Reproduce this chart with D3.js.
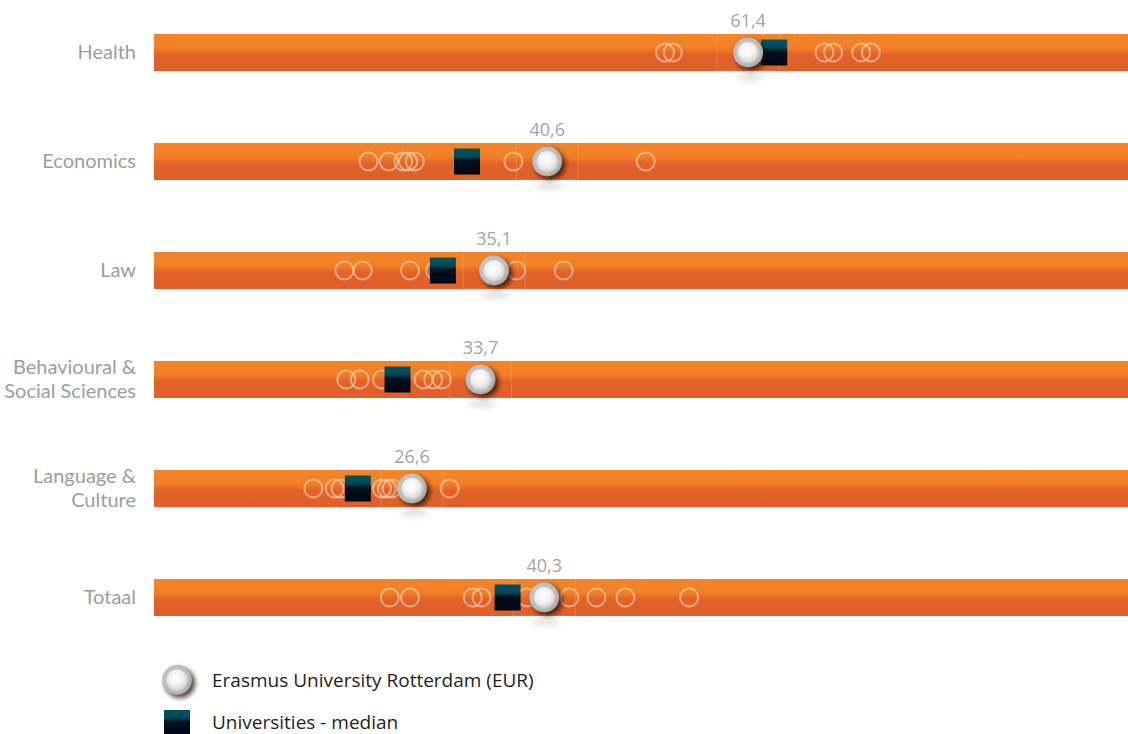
<!DOCTYPE html>
<html>
<head>
<meta charset="utf-8">
<script src="https://cdn.jsdelivr.net/npm/d3@7/dist/d3.min.js"></script>
<style>
  html, body { margin: 0; padding: 0; background: #ffffff; }
  svg { display: block; }
  text { font-family: "Open Sans", "Noto Sans", sans-serif; }
  text.cat { font-family: Lato, "Open Sans", sans-serif; }
</style>
</head>
<body>
<svg id="chart" width="1128" height="734"></svg>
<script>
// Faculty rows (label lines per row)
const categories = ["Health", "Economics", "Law", "Behavioural & Social Sciences", "Language & Culture", "Totaal"];
const categoryLines = [["Health"], ["Economics"], ["Law"], ["Behavioural &", "Social Sciences"], ["Language &", "Culture"], ["Totaal"]];

// Erasmus University Rotterdam score per row
const eurValues = [61.4, 40.6, 35.1, 33.7, 26.6, 40.3];
const eurLabels = ["61,4", "40,6", "35,1", "33,7", "26,6", "40,3"];

// Median of all universities per row
const medianValues = [64.1, 32.3, 29.8, 25.1, 21.0, 36.5];

// Scores of the other universities per row
const otherValues = [
  [52.8, 53.6, 69.3, 70.2, 73.1, 74.1],
  [22.1, 24.2, 25.7, 26.2, 26.9, 37.1, 50.8],
  [19.6, 21.5, 26.4, 29.0, 37.4, 42.3],
  [19.8, 21.2, 23.5, 27.8, 28.8, 29.7],
  [16.4, 18.6, 19.2, 23.5, 24.0, 24.5, 30.5],
  [24.3, 26.4, 32.9, 33.8, 38.5, 42.9, 45.7, 48.7, 55.3]
];

const legendLabels = ["Erasmus University Rotterdam (EUR)", "Universities - median"];

const svg = d3.select("#chart");
const W = 1128;

const x = d3.scaleLinear().domain([0, 100]).range([155, 1121]);
const y = d3.scaleBand().domain(categories).range([-2, 652]).paddingInner(0).paddingOuter(0);
const barH = 37;

const defs = svg.append("defs");

// Track gradient: light orange top, darker orange bottom
const tg = defs.append("linearGradient").attr("id", "track").attr("x1", 0).attr("y1", 0).attr("x2", 0).attr("y2", 1);
tg.append("stop").attr("offset", "0%").attr("stop-color", "#f58428");
tg.append("stop").attr("offset", "38%").attr("stop-color", "#f27f26");
tg.append("stop").attr("offset", "55%").attr("stop-color", "#e2622a");
tg.append("stop").attr("offset", "100%").attr("stop-color", "#e05f27");

// Median marker gradient: teal top fading to near black
const mg = defs.append("linearGradient").attr("id", "med").attr("x1", 0).attr("y1", 0).attr("x2", 0).attr("y2", 1);
mg.append("stop").attr("offset", "0%").attr("stop-color", "#00525f");
mg.append("stop").attr("offset", "30%").attr("stop-color", "#014a57");
mg.append("stop").attr("offset", "48%").attr("stop-color", "#02101c");
mg.append("stop").attr("offset", "100%").attr("stop-color", "#000514");

// EUR marker: grey ring and glossy white centre
const rg = defs.append("radialGradient").attr("id", "eurRing").attr("cx", "45%").attr("cy", "45%").attr("r", "55%");
rg.append("stop").attr("offset", "0%").attr("stop-color", "#d8d8d8");
rg.append("stop").attr("offset", "80%").attr("stop-color", "#bcbcbc");
rg.append("stop").attr("offset", "100%").attr("stop-color", "#a4a4a4");
const cg = defs.append("radialGradient").attr("id", "eurCore").attr("cx", "45%").attr("cy", "40%").attr("r", "60%");
cg.append("stop").attr("offset", "0%").attr("stop-color", "#ffffff");
cg.append("stop").attr("offset", "55%").attr("stop-color", "#f2f2f2");
cg.append("stop").attr("offset", "100%").attr("stop-color", "#d2d2d2");

const shadow = defs.append("filter").attr("id", "shadow").attr("x", "-60%").attr("y", "-60%").attr("width", "220%").attr("height", "220%");
shadow.append("feGaussianBlur").attr("stdDeviation", 2.5);
const soft = defs.append("filter").attr("id", "soft").attr("x", "-80%").attr("y", "-200%").attr("width", "260%").attr("height", "500%");
soft.append("feGaussianBlur").attr("stdDeviation", 3);

const rows = svg.selectAll("g.row").data(categories).join("g")
  .attr("class", "row")
  .attr("transform", d => `translate(0,${y(d) + y.bandwidth() / 2})`);

// soft shadow under the EUR marker, below the track
rows.append("ellipse")
  .attr("cx", (d, i) => x(eurValues[i]) + 2)
  .attr("cy", barH / 2 + 6)
  .attr("rx", 14).attr("ry", 3)
  .attr("fill", "#000").attr("opacity", 0.15)
  .attr("filter", "url(#soft)");

// orange track
rows.append("rect")
  .attr("x", x(0) - 1)
  .attr("y", -barH / 2)
  .attr("width", W - x(0) + 1)
  .attr("height", barH)
  .attr("fill", "url(#track)");

// faint box around the value label
rows.append("rect")
  .attr("x", (d, i) => x(eurValues[i]) - 31)
  .attr("y", -barH / 2 - 22)
  .attr("width", 62)
  .attr("height", barH + 22)
  .attr("fill", "none")
  .attr("stroke", "#ffffff")
  .attr("stroke-opacity", 0.18)
  .attr("stroke-width", 1);

// other universities: hollow light circles
rows.each(function (d, i) {
  d3.select(this).selectAll("circle.other").data(otherValues[i]).join("circle")
    .attr("class", "other")
    .attr("cx", v => x(v))
    .attr("cy", 0)
    .attr("r", 9)
    .attr("fill", "none")
    .attr("stroke", "#ffdcc0")
    .attr("stroke-opacity", 0.6)
    .attr("stroke-width", 2);
});

// universities median square
rows.append("rect")
  .attr("x", (d, i) => x(medianValues[i]) - 13)
  .attr("y", -13)
  .attr("width", 26)
  .attr("height", 26)
  .attr("fill", "url(#med)");

// EUR marker
function eurMarker(g, cx, cy) {
  g.append("circle").attr("cx", cx + 3).attr("cy", cy + 3).attr("r", 15)
    .attr("fill", "#1a0d05").attr("opacity", 0.8).attr("filter", "url(#shadow)");
  g.append("circle").attr("cx", cx).attr("cy", cy).attr("r", 15).attr("fill", "url(#eurRing)");
  g.append("circle").attr("cx", cx).attr("cy", cy).attr("r", 10.5).attr("fill", "url(#eurCore)");
}
rows.each(function (d, i) {
  eurMarker(d3.select(this), x(eurValues[i]), 0);
});

// value label above the EUR marker
rows.append("text")
  .attr("x", (d, i) => x(eurValues[i]))
  .attr("y", -barH / 2 - 7)
  .attr("text-anchor", "middle")
  .attr("font-size", 18)
  .attr("fill", "#a3a4a8")
  .text((d, i) => eurLabels[i]);

// category labels, one text element per line
rows.each(function (d, i) {
  const lines = categoryLines[i];
  d3.select(this).selectAll("text.cat").data(lines).join("text")
    .attr("class", "cat")
    .attr("x", 136)
    .attr("y", (ln, k) => (k - (lines.length - 1) / 2) * 24 + 6.5)
    .attr("text-anchor", "end")
    .attr("font-size", 20)
    .attr("fill", "#9b9da2")
    .text(ln => ln);
});

// legend
const lg = svg.append("g");
eurMarker(lg, 177, 680);
lg.append("rect").attr("x", 164).attr("y", 710).attr("width", 26).attr("height", 26).attr("fill", "url(#med)");
lg.selectAll("text.leg").data(legendLabels).join("text")
  .attr("class", "leg")
  .attr("x", 212)
  .attr("y", (d, i) => 687 + i * 42)
  .attr("font-size", 19)
  .attr("fill", "#1e1e1e")
  .text(d => d);
</script>
</body>
</html>
